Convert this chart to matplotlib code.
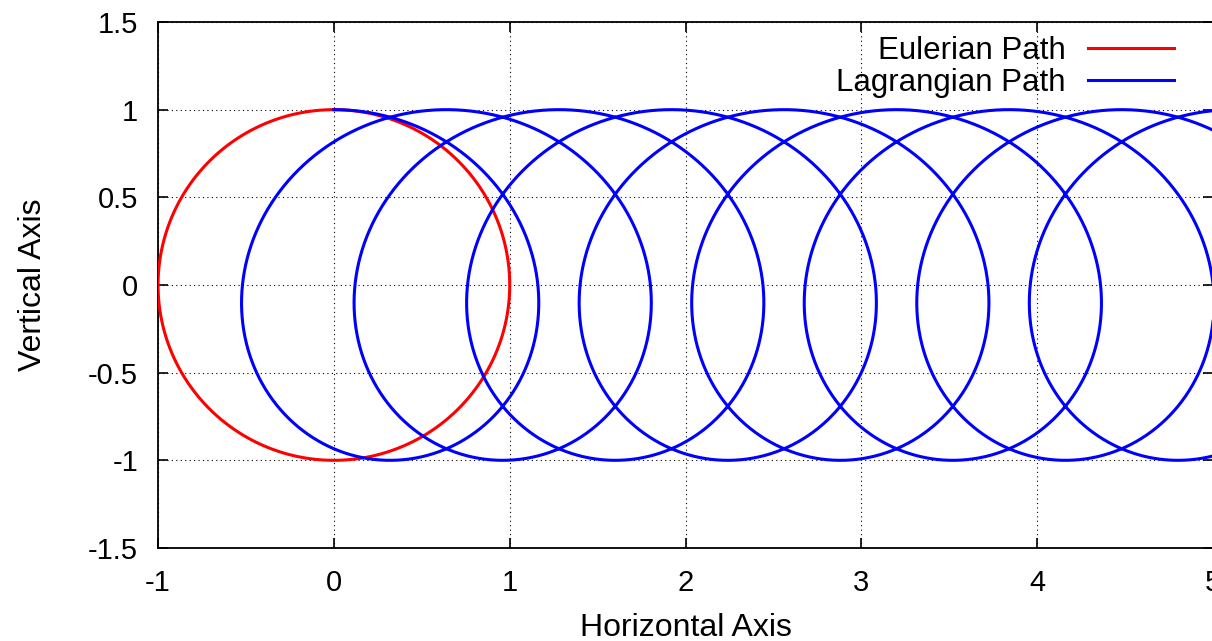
import numpy as np
import matplotlib.pyplot as plt

# orbit values
radius = 1.0            # both paths swing between y = -1 and y = 1
drift_per_loop = 0.64   # horizontal shift of the Lagrangian loop per revolution
n_loops = 8             # loops drawn (curve runs past the right edge)

x_ticks = [-1, 0, 1, 2, 3, 4, 5]
y_ticks = [-1.5, -1, -0.5, 0, 0.5, 1, 1.5]

plt.rcParams['font.family'] = ['Liberation Sans', 'DejaVu Sans']

t_euler = np.linspace(0, 2 * np.pi, 400)
x_euler = radius * np.sin(t_euler)
y_euler = radius * np.cos(t_euler)

t_lag = np.linspace(0, 2 * np.pi * n_loops, 4000)
x_lag = radius * np.sin(t_lag) + drift_per_loop * t_lag / (2 * np.pi)
y_lag = radius * np.cos(t_lag)

fig = plt.figure(figsize=(12.12, 6.41), dpi=100)
ax = fig.add_axes([0.1304, 0.1451, 0.8705, 0.8206])

ax.plot(x_euler, y_euler, color='#ff0000', lw=2.2, label='Eulerian Path', zorder=3)
ax.plot(x_lag, y_lag, color='#0000ff', lw=2.2, label='Lagrangian Path', zorder=4)

ax.set_xlim(-1, 5)
ax.set_ylim(-1.5, 1.5)
ax.set_xticks(x_ticks)
ax.set_yticks(y_ticks)
ax.set_xticklabels([f'{v:g}' for v in x_ticks])
ax.set_yticklabels([f'{v:g}' for v in y_ticks])

ax.grid(True, color='black', linestyle=(0, (1, 3)), linewidth=0.8)
ax.set_axisbelow(True)
ax.tick_params(direction='in', length=7, width=1.2, top=True, right=True,
               labelsize=21, color='black')
ax.tick_params(axis='y', pad=14.4)
ax.tick_params(axis='x', pad=15)
for s in ax.spines.values():
    s.set_linewidth(1.3)

ax.set_xlabel('Horizontal Axis', fontsize=23, labelpad=12)
ax.set_ylabel('Vertical Axis', fontsize=23, labelpad=29)

ax.legend(loc='upper right', bbox_to_anchor=(0.9625, 0.973), frameon=False,
          markerfirst=False, fontsize=22.5, handlelength=2.75, handletextpad=0.71,
          labelspacing=0.065, borderpad=0, borderaxespad=0)

plt.savefig('out.png', dpi=100)
